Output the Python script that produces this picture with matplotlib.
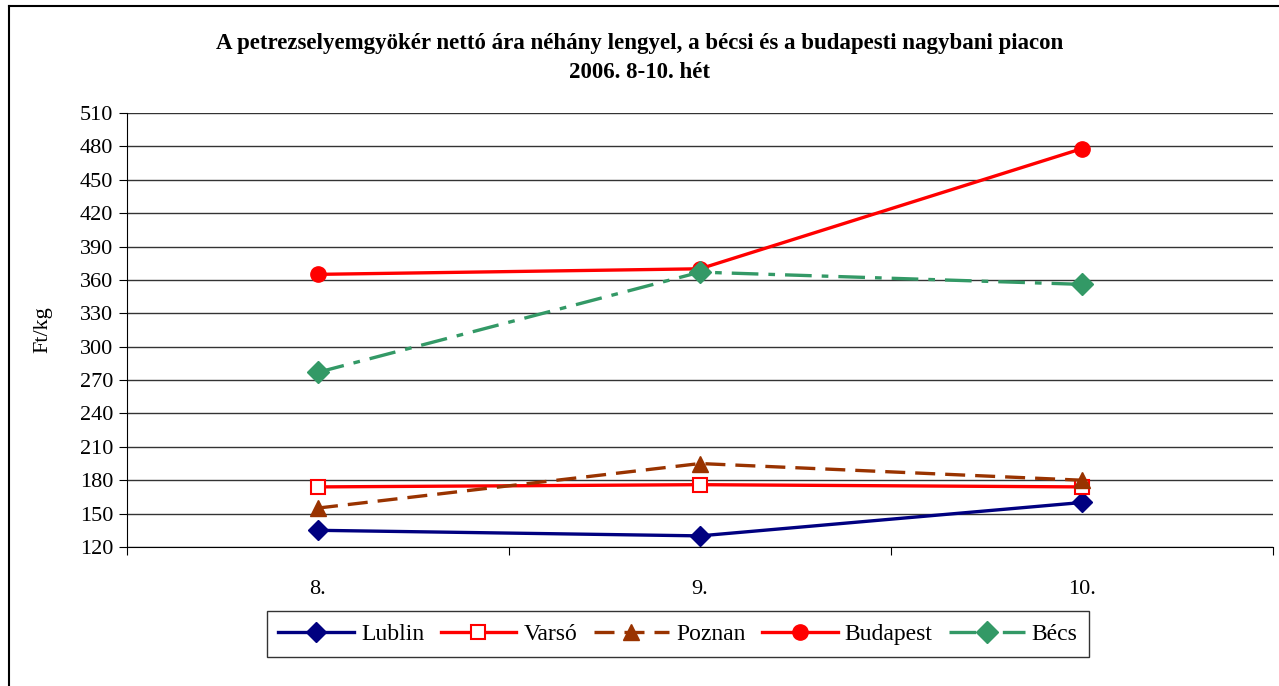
import matplotlib
matplotlib.use("Agg")
import matplotlib.pyplot as plt
from matplotlib.lines import Line2D

plt.rcParams['font.family'] = ['Liberation Serif', 'DejaVu Serif']

weeks = ["8.", "9.", "10."]
lublin = [135, 130, 160]
varso = [174, 176, 174]
poznan = [155, 195, 180]
budapest = [365, 370, 478]
becs = [277, 367, 356]
yticks = list(range(120, 511, 30))

fig = plt.figure(figsize=(12.79, 6.86), dpi=100)
ax = fig.add_axes([127/1279, 1-547/686, (1273-127)/1279, (547-113)/686])

x = list(range(len(weeks)))
lw = 2.4
ax.plot(x, lublin, color='#000080', lw=lw, marker='D', ms=10, label='Lublin')
ax.plot(x, varso, color='#FF0000', lw=lw, marker='s', ms=10, mfc='white', mec='#FF0000', mew=1.5, label='Varsó')
ax.plot(x, poznan, color='#993300', lw=lw, ls=(0, (6, 3)), marker='^', ms=12, label='Poznan')
ax.plot(x, budapest, color='#FF0000', lw=lw, marker='o', ms=11, label='Budapest')
ax.plot(x, becs, color='#339966', lw=lw, ls=(0, (8, 3, 2, 3)), marker='D', ms=11, label='Bécs')

ax.set_xlim(-0.5, 2.5)
ax.set_ylim(120, 510)
ax.set_yticks(yticks)
ax.set_yticklabels([str(v) for v in yticks], fontsize=16)
ax.yaxis.grid(True, color='#333333', lw=1)
ax.set_axisbelow(True)
ax.set_xticks([-0.5, 0.5, 1.5, 2.5])
ax.set_xticklabels([])
ax.set_xticks(x, minor=True)
ax.set_xticklabels(weeks, minor=True, fontsize=16)
ax.tick_params(axis='x', which='minor', length=0, pad=24)
ax.tick_params(axis='x', which='major', length=6, direction='out', color='black')
ax.tick_params(axis='y', length=6, direction='out', pad=4)
for s in ['top', 'right']:
    ax.spines[s].set_visible(False)
ax.spines['left'].set_color('black')
ax.spines['bottom'].set_color('black')
ax.set_ylabel('Ft/kg', fontsize=16, labelpad=20)

fig.text(0.5, 1-43/686, 'A petrezselyemgyökér nettó ára néhány lengyel, a bécsi és a budapesti nagybani piacon',
         ha='center', va='center', fontsize=16.5, fontweight='bold')
fig.text(0.5, 1-73/686, '2006. 8-10. hét', ha='center', va='center', fontsize=16.5, fontweight='bold')

leg = fig.legend(loc='center', bbox_to_anchor=(678/1279, 1-634/686), ncol=5, fontsize=17,
                 frameon=True, fancybox=False, edgecolor='black', handlelength=3.2,
                 columnspacing=0.7, handletextpad=0.3, borderpad=0.5)
leg.get_frame().set_linewidth(1.0)

fig.add_artist(Line2D([8.5/1279, 8.5/1279], [0, 1-6/686], transform=fig.transFigure, color='black', lw=1.5))
fig.add_artist(Line2D([8.5/1279, 1], [1-6/686, 1-6/686], transform=fig.transFigure, color='black', lw=1.5))

fig.savefig('out.png', dpi=100)
